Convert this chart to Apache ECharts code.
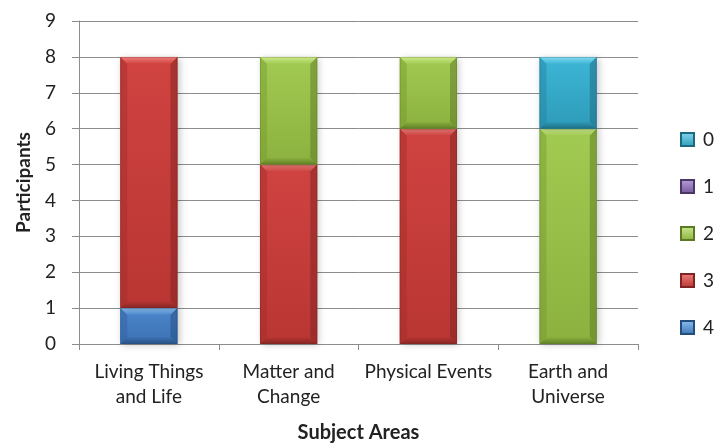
<!DOCTYPE html>
<html>
<head>
<meta charset="utf-8">
<script src="https://cdn.jsdelivr.net/npm/echarts@6/dist/echarts.min.js"></script>
<style>
  html, body { margin: 0; padding: 0; background: #fff; }
  #chart { width: 717px; height: 444px; }
</style>
</head>
<body>
<div id="chart"></div>
<script>
// Subject areas on the x axis
const categories = ['Living Things\nand Life', 'Matter and\nChange', 'Physical Events', 'Earth and\nUniverse'];

// Participants per score level, stacked bottom to top (4, 3, 2, 1, 0)
const score4 = [1, 0, 0, 0];
const score3 = [7, 5, 6, 0];
const score2 = [0, 3, 2, 6];
const score1 = [0, 0, 0, 0];
const score0 = [0, 0, 0, 2];

const yTicks = [0, 1, 2, 3, 4, 5, 6, 7, 8, 9];

const FONT = 'Lato, "Open Sans", sans-serif';

const palette = {
  '0': { top: '#3db6d6', bottom: '#2e9bb9', light: '#86d9f0', dark: '#1d6a80', side: '#24839e' },
  '1': { top: '#8769b0', bottom: '#72579a', light: '#b9a0dc', dark: '#4a3768', side: '#5f4884' },
  '2': { top: '#a2cb52', bottom: '#8cb13f', light: '#cdea8c', dark: '#5c7a24', side: '#769a30' },
  '3': { top: '#d04341', bottom: '#b93633', light: '#ef807c', dark: '#7f2422', side: '#a02e2b' },
  '4': { top: '#4c86cc', bottom: '#3d72b4', light: '#8cc2f2', dark: '#244e7e', side: '#30609c' }
};

// Stack order from the bottom up
const stackOrder = [['4', score4], ['3', score3], ['2', score2], ['1', score1], ['0', score0]];

// Running base of each column as segments are piled up
const bases = categories.map(() => 0);

function segmentData(values) {
  return values.map((v, i) => {
    const b = bases[i];
    bases[i] += v;
    return [i, b, b + v];
  });
}

function vgrad(a, b) {
  return new echarts.graphic.LinearGradient(0, 0, 0, 1, [
    { offset: 0, color: a }, { offset: 1, color: b }
  ]);
}

function beveledSegment(c) {
  return function (params, api) {
    const lo = api.value(1), hi = api.value(2);
    if (hi - lo <= 0) return null;
    const idx = api.value(0);
    const p0 = api.coord([idx, lo]);
    const p1 = api.coord([idx, hi]);
    const w = api.size([1, 0])[0] * 0.41;
    const x = p0[0] - w / 2;
    const y = p1[1];
    const h = p0[1] - p1[1];
    const b = Math.min(7, h / 2);
    return {
      type: 'group',
      children: [
        { type: 'rect', shape: { x: x, y: y, width: w, height: h },
          style: { fill: vgrad(c.top, c.bottom), shadowBlur: 7, shadowOffsetX: 2, shadowOffsetY: 1, shadowColor: 'rgba(0,0,0,0.22)' } },
        { type: 'polygon', shape: { points: [[x, y], [x + w, y], [x + w - b, y + b], [x + b, y + b]] },
          style: { fill: vgrad(c.light, c.top) } },
        { type: 'polygon', shape: { points: [[x, y + h], [x + w, y + h], [x + w - b, y + h - b], [x + b, y + h - b]] },
          style: { fill: vgrad(c.bottom, c.dark), opacity: 0.9 } },
        { type: 'polygon', shape: { points: [[x, y], [x + b, y + b], [x + b, y + h - b], [x, y + h]] },
          style: { fill: c.side, opacity: 0.45 } },
        { type: 'polygon', shape: { points: [[x + w, y], [x + w - b, y + b], [x + w - b, y + h - b], [x + w, y + h]] },
          style: { fill: c.dark, opacity: 0.5 } },
        { type: 'rect', shape: { x: x + 0.5, y: y + 0.5, width: w - 1, height: h - 1 },
          style: { fill: 'none', stroke: c.dark, lineWidth: 1, opacity: 0.35 } }
      ]
    };
  };
}

const series = stackOrder.map(([name, values]) => {
  const c = palette[name];
  return {
    name: name,
    type: 'custom',
    data: segmentData(values),
    encode: { x: 0, y: [1, 2] },
    itemStyle: { color: vgrad(c.light, c.bottom), borderColor: c.dark, borderWidth: 1 },
    renderItem: beveledSegment(c),
    silent: true
  };
});

const chart = echarts.init(document.getElementById('chart'), null, { renderer: 'canvas' });

chart.setOption({
  animation: false,
  backgroundColor: '#ffffff',
  textStyle: { fontFamily: FONT },
  grid: { left: 79, right: 79, top: 21, bottom: 100, containLabel: false, outerBoundsMode: 'none' },
  legend: {
    orient: 'vertical',
    left: 680,
    top: 130,
    padding: 0,
    data: ['0', '1', '2', '3', '4'],
    itemWidth: 13,
    itemHeight: 13,
    itemGap: 28,
    icon: 'rect',
    textStyle: { fontFamily: FONT, fontSize: 19, color: '#222', padding: [0, 0, 0, 4] }
  },
  xAxis: {
    type: 'category',
    data: categories,
    name: 'Subject Areas',
    nameLocation: 'middle',
    nameGap: 79,
    nameTextStyle: { fontFamily: FONT, fontSize: 20, fontWeight: 'bold', color: '#222' },
    axisLine: { lineStyle: { color: '#8c8c8c', width: 1 } },
    axisTick: { show: true, length: 6, lineStyle: { color: '#8c8c8c' } },
    axisLabel: { fontFamily: FONT, fontSize: 19, color: '#222', margin: 15, lineHeight: 25, interval: 0 }
  },
  yAxis: {
    type: 'value',
    min: yTicks[0],
    max: yTicks[yTicks.length - 1],
    interval: 1,
    name: 'Participants',
    nameLocation: 'middle',
    nameGap: 46,
    nameRotate: 90,
    nameTextStyle: { fontFamily: FONT, fontSize: 19, fontWeight: 'bold', color: '#222' },
    axisLine: { show: true, lineStyle: { color: '#8c8c8c', width: 1 } },
    axisTick: { show: true, length: 7, lineStyle: { color: '#8c8c8c' } },
    axisLabel: { fontFamily: FONT, fontSize: 19, color: '#222', margin: 23 },
    splitLine: { lineStyle: { color: '#8c8c8c', width: 1 } }
  },
  series: series
});
</script>
</body>
</html>
